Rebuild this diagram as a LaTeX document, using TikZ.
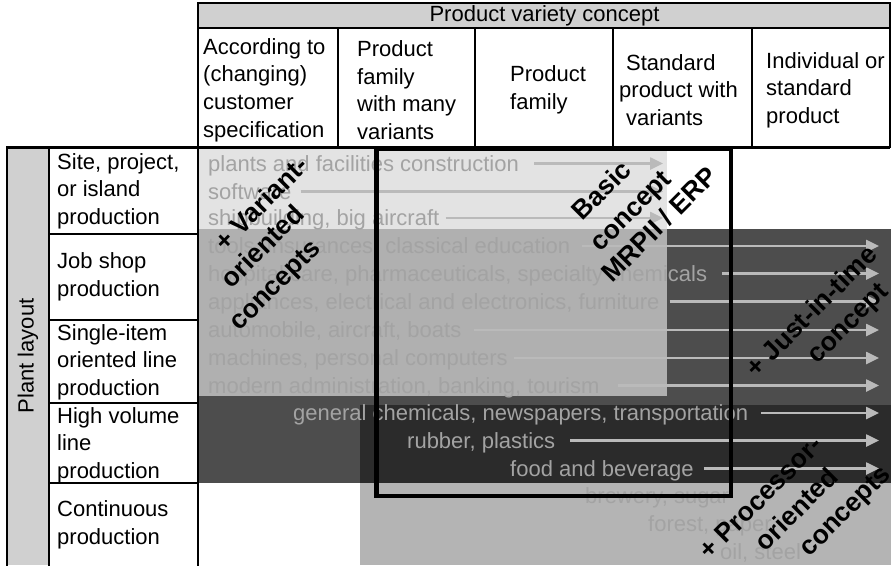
\documentclass[tikz,border=0pt]{standalone}
\usepackage{fontspec}
\setmainfont{Liberation Sans}
\usetikzlibrary{arrows.meta}
\definecolor{titlegray}{HTML}{D0D0D0}
\definecolor{lightreg}{HTML}{E3E3E3}
\definecolor{midreg}{HTML}{B0B0B0}
\definecolor{darkreg}{HTML}{4D4D4D}
\definecolor{darkerreg}{HTML}{2B2B2B}
\definecolor{procreg}{HTML}{B4B4B4}
\definecolor{itemtext}{HTML}{A3A3A3}
\definecolor{arrowgray}{HTML}{BABABA}
\begin{document}
\begin{tikzpicture}[x=1pt,y=-1pt,
  every node/.style={font=\fontsize{22}{27.6}\selectfont, inner sep=0pt},
  tline/.style={line width=2pt},
  hdr/.style={align=left, anchor=west},
  rowlab/.style={align=left, anchor=west},
  item/.style={text=itemtext, anchor=west, text height=15.8pt, text depth=0pt},
  arr/.style={draw=arrowgray, line width=2.5pt, -{Triangle[length=13pt,width=12pt]}},
  concept/.style={font=\fontsize{26.5}{33}\selectfont\bfseries, rotate=45, anchor=center, text height=19pt, text depth=0pt}]
\useasboundingbox (0,0) rectangle (891,565);
\fill[white] (0,0) rectangle (891,565);
% shaded regions
\fill[darkreg] (198,229) rectangle (891,483);
\fill[midreg] (198,229) rectangle (667,396);
\fill[lightreg] (198,148) rectangle (667,229);
\fill[darkerreg] (360,405) rectangle (891,483);
\fill[procreg] (360,483) rectangle (891,565);
% header
\draw[tline, fill=titlegray] (198,3) rectangle (890,28);
\node (title) at (544.5,15.5) {Product variety concept};
\draw[tline] (198,28) rectangle (890,147);
\foreach \x in {338,475,613,752} \draw[tline] (\x,28) -- (\x,147);
\node[hdr] (c1) at (203,90) {According to\\(changing)\\customer\\specification};
\node[hdr] (c2) at (357,90) {Product\\family\\with many\\variants};
\node[hdr] (c3) at (510,90) {Product\\family};
\node[hdr] (c4) at (619,90) {\hspace*{7pt}Standard\\product with\\\hspace*{7pt}variants};
\node[hdr] (c5) at (766,90) {Individual or\\standard\\product};
% left columns
\fill[titlegray] (7,147) rectangle (49,565);
\draw[tline] (7,566) -- (7,147) -- (49,147) -- (49,566);
\node[rotate=90] (pl) at (28,356) {Plant layout};
\draw[tline] (198,566) -- (198,147);
\foreach \y in {234,320,403,483} \draw[tline] (49,\y) -- (198,\y);
\node[rowlab] (r1) at (57,191) {Site, project,\\or island\\production};
\node[rowlab] (r2) at (57,277) {Job shop\\production};
\node[rowlab] (r3) at (57,362) {Single-item\\oriented line\\production};
\node[rowlab] (r4) at (57,445) {High volume\\line\\production};
\node[rowlab] (r5) at (57,525) {Continuous\\production};
\draw[line width=3.5pt] (7,147.5) -- (890,147.5);
% items
\node[item] (i1) at (208,163.5) {plants and facilities construction};
\node[item] (i2) at (208,191.5) {software};
\node[item] (i3) at (208,218) {shipbuilding, big aircraft};
\node[item] (i4) at (208,246) {tools, insurances, classical education};
\node[item] (i5) at (208,273.5) {hospital care, pharmaceuticals, specialty chemicals};
\node[item] (i6) at (208,301.5) {appliances, electrical and electronics, furniture};
\node[item] (i7) at (208,330) {automobile, aircraft, boats};
\node[item] (i8) at (208,358) {machines, personal computers};
\node[item] (i9) at (208,385.5) {modern administration, banking, tourism};
\node[item] (i10) at (293,413) {general chemicals, newspapers, transportation};
\node[item] (i11) at (407,440.5) {rubber, plastics};
\node[item] (i12) at (510,468.5) {food and beverage};
\node[item] (i13) at (585,496) {brewery, sugar};
\node[item] (i14) at (648,524) {forest, paper};
\node[item] (i15) at (720,551.5) {oil, steel};
\coordinate (e1) at (663,163.5);
\coordinate (e2) at (663,191.5);
\coordinate (e3) at (663,218);
\coordinate (e4) at (879,246);
\coordinate (e5) at (879,273.5);
\coordinate (e6) at (879,301.5);
\coordinate (e7) at (879,330);
\coordinate (e8) at (879,358);
\coordinate (e9) at (879,385.5);
\coordinate (e10) at (879,413);
\coordinate (e11) at (879,440.5);
\coordinate (e12) at (879,468.5);
\draw[arr, shorten <=15pt] (i1.east) -- (e1);
\draw[arr, shorten <=9pt] (i2.east) -- (e2);
\draw[arr, shorten <=6pt] (i3.east) -- (e3);
\draw[arr, shorten <=12pt] (i4.east) -- (e4);
\draw[arr, shorten <=15pt] (i5.east) -- (e5);
\draw[arr, shorten <=10pt] (i6.east) -- (e6);
\draw[arr, shorten <=12pt] (i7.east) -- (e7);
\draw[arr, shorten <=6pt] (i8.east) -- (e8);
\draw[arr, shorten <=18pt] (i9.east) -- (e9);
\draw[arr, shorten <=13pt] (i10.east) -- (e10);
\draw[arr, shorten <=15pt] (i11.east) -- (e11);
\draw[arr, shorten <=10pt] (i12.east) -- (e12);
% basic concept frame
\draw[line width=4.5pt] (376.5,149) rectangle (731,496);
% concept labels
\node[concept] (v1) at (261,203) {+ Variant-};
\node[concept] (v2) at (262,246) {oriented};
\node[concept] (v3) at (274,284) {concepts};
\node[concept] (b1) at (601,190) {Basic};
\node[concept] (b2) at (630,210) {concept};
\node[concept] (b3) at (659,224) {MRPII / ERP};
\node[concept] (j1) at (811,311) {+ Just-in-time};
\node[concept] (j2) at (847,322) {concept};
\node[concept] (p1) at (760,497) {+ Processor-};
\node[concept] (p2) at (796,509) {oriented};
\node[concept] (p3) at (844,510) {concepts};
\end{tikzpicture}
\end{document}
